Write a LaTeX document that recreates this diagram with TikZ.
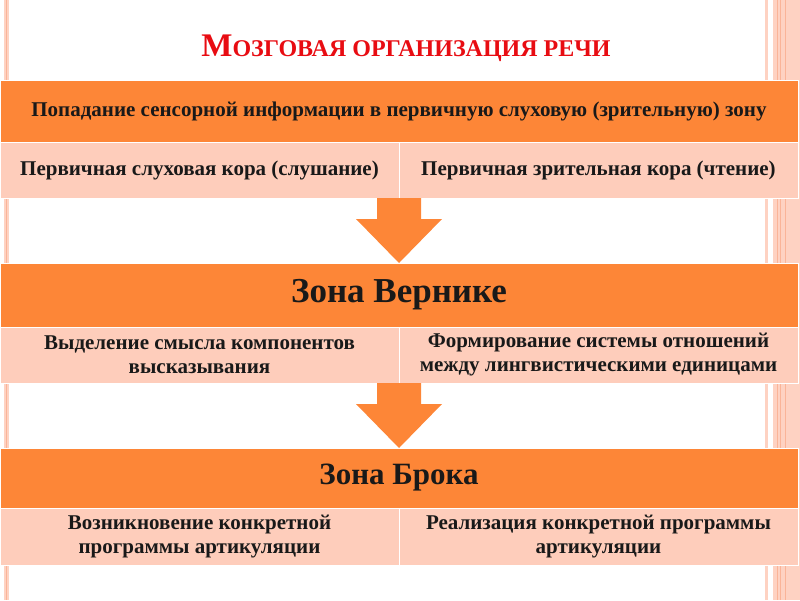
\documentclass[tikz,border=0pt]{standalone}
\usepackage{fontspec}
\setmainfont{Liberation Serif}
\usetikzlibrary{positioning,calc}
\definecolor{slideorange}{RGB}{253,134,55}
\definecolor{slidepink}{RGB}{254,205,187}
\definecolor{stripepale}{RGB}{254,210,194}
\definecolor{stripedark}{RGB}{250,180,152}
\definecolor{titlered}{RGB}{232,12,18}

\begin{document}
\begin{tikzpicture}[
  x=1pt, y=-1pt,
  font=\bfseries\fontsize{21}{24}\selectfont,
  hdr/.style={fill=slideorange, draw=white, line width=0.8pt, minimum width=798pt,
              inner sep=0pt, outer sep=0pt, text=black!90},
  bigtext/.style={font=\bfseries\fontsize{#1}{40}\selectfont},
  cell/.style={fill=slidepink, draw=white, line width=0.8pt, minimum width=399pt,
               minimum height=56pt, inner sep=0pt, outer sep=0pt, align=center, text=black!90},
  flow/.style={fill=slideorange}
]
\useasboundingbox (0,0) rectangle (800,600);

% side stripes of the slide
\fill[stripepale] (4,0) rectangle (9,600);
\fill[stripedark] (6,0) rectangle (7,600);
\fill[stripepale] (765,0) rectangle (768,600);
\fill[stripepale] (773,0) rectangle (800,600);
\foreach \sx in {777,780,785}
  \fill[stripedark] (\sx,0) rectangle ++(1,600);

\node[text=titlered, anchor=base] (title) at (406,56)
  {{\fontsize{33}{36}\selectfont М}{\fontsize{24}{26}\selectfont ОЗГОВАЯ ОРГАНИЗАЦИЯ РЕЧИ}};

% input
\node[hdr, minimum height=62pt] (src) at (399,111)
  {Попадание сенсорной информации в первичную слуховую (зрительную) зону};
\node[cell, anchor=north west] (hear) at (src.south west) {Первичная слуховая кора (слушание)};
\node[cell, anchor=north east] (read) at (src.south east) {Первичная зрительная кора (чтение)};

% Wernicke
\node[hdr, bigtext=35, minimum height=64pt, below=65pt of hear.south east] (wern) {Зона Вернике};
\node[cell, anchor=north west] (sense) at (wern.south west)
  {Выделение смысла компонентов\\высказывания};
\node[cell, anchor=north east] (rel) at (wern.south east)
  {Формирование системы отношений\\между лингвистическими единицами};

% Broca
\node[hdr, bigtext=31, minimum height=60pt, below=65pt of sense.south east] (broca) {Зона Брока};
\node[cell, anchor=north west, minimum height=57pt] (gen) at (broca.south west)
  {Возникновение конкретной\\программы артикуляции};
\node[cell, anchor=north east, minimum height=57pt] (real) at (broca.south east)
  {Реализация конкретной программы\\артикуляции};

% block arrows between the stages
\foreach \from/\to in {hear/wern, sense/broca}
  \fill[flow] ($(\from.south east)+(-22,0)$) -- ++(0,21) -- ++(-21,0) -- (\to.north)
    -- ++(43,-44) -- ++(-21,0) -- ++(0,-21) -- cycle;
\end{tikzpicture}
\end{document}
